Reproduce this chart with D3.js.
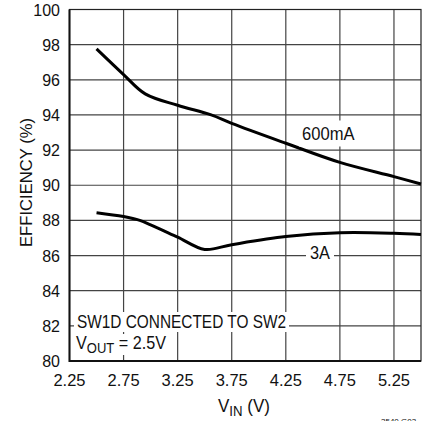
<!DOCTYPE html>
<html>
<head>
<meta charset="utf-8">
<script src="https://cdn.jsdelivr.net/npm/d3@7"></script>
<style>
  html, body { margin: 0; padding: 0; background: #fff; }
  svg text { font-family: "Liberation Sans", Arial, sans-serif; fill: #111; }
</style>
</head>
<body>
<div id="chart"></div>
<script>
// efficiency vs input voltage
const vin600 = [2.5, 2.75, 2.95, 3.25, 3.56, 3.75, 4.25, 4.75, 5.25, 5.5];
const eff600 = [97.76, 96.3, 95.2, 94.55, 94.0, 93.52, 92.39, 91.3, 90.49, 90.07];
const vin3A = [2.5, 2.75, 2.9, 3.0, 3.25, 3.5, 3.75, 4.25, 4.75, 5.25, 5.5];
const eff3A = [88.44, 88.22, 88.0, 87.75, 87.05, 86.35, 86.62, 87.08, 87.3, 87.27, 87.2];
const xTicks = [2.25, 2.75, 3.25, 3.75, 4.25, 4.75, 5.25];
const yTicks = [80, 82, 84, 86, 88, 90, 92, 94, 96, 98, 100];

const W = 422, H = 421;
const m = { left: 69.5, right: 421, top: 9.5, bottom: 361 };

const x = d3.scaleLinear().domain([2.25, 5.5]).range([m.left, m.right]);
const y = d3.scaleLinear().domain([80, 100]).range([m.bottom, m.top]);

const svg = d3.select("#chart").append("svg")
  .attr("width", W).attr("height", H);

// grid
svg.append("g").selectAll("line").data(xTicks.slice(1)).enter().append("line")
  .attr("x1", d => x(d)).attr("x2", d => x(d))
  .attr("y1", m.top).attr("y2", m.bottom)
  .attr("stroke", "#444").attr("stroke-width", 1.2);
svg.append("g").selectAll("line").data(yTicks.slice(1)).enter().append("line")
  .attr("x1", m.left).attr("x2", m.right)
  .attr("y1", d => y(d)).attr("y2", d => y(d))
  .attr("stroke", "#444").attr("stroke-width", 1.2);

// frame
svg.append("rect")
  .attr("x", m.left).attr("y", m.top)
  .attr("width", m.right - m.left).attr("height", m.bottom - m.top)
  .attr("fill", "none").attr("stroke", "#222").attr("stroke-width", 1.2);
svg.append("path")
  .attr("d", `M${m.left},${m.top}V${m.bottom}H${m.right}`)
  .attr("fill", "none").attr("stroke", "#111").attr("stroke-width", 2);

// tick labels
svg.append("g").selectAll("text").data(yTicks).enter().append("text")
  .attr("x", 60).attr("y", d => y(d) + 6)
  .attr("text-anchor", "end").style("font-size", "16px")
  .text(d => d);
svg.append("g").selectAll("text").data(xTicks).enter().append("text")
  .attr("x", d => x(d)).attr("y", 385.5)
  .attr("text-anchor", "middle").style("font-size", "16.5px")
  .text(d => d.toFixed(2));

// axis titles
const xt = svg.append("text").attr("x", 218).attr("y", 412)
  .attr("text-anchor", "start").style("font-size", "18px")
  .attr("textLength", 52).attr("lengthAdjust", "spacingAndGlyphs");
xt.append("tspan").text("V");
xt.append("tspan").attr("dy", 4).style("font-size", "14px").text("IN");
xt.append("tspan").attr("dy", -4).text(" (V)");

svg.append("text")
  .attr("transform", `translate(32,${182.5}) rotate(-90)`)
  .attr("text-anchor", "middle").style("font-size", "17px")
  .attr("textLength", 129).attr("lengthAdjust", "spacingAndGlyphs")
  .text("EFFICIENCY (%)");

// curves
const line = d3.line().x(d => x(d[0])).y(d => y(d[1])).curve(d3.curveCatmullRom.alpha(0.5));
svg.append("path").datum(d3.zip(vin600, eff600))
  .attr("d", line).attr("fill", "none").attr("stroke", "#000").attr("stroke-width", 3);
svg.append("path").datum(d3.zip(vin3A, eff3A))
  .attr("d", line).attr("fill", "none").attr("stroke", "#000").attr("stroke-width", 3);

// labels with white backgrounds
function label(cx, cy, len) {
  const g = svg.append("g");
  const bg = g.append("rect").attr("fill", "#fff");
  const t = g.append("text").attr("x", cx).attr("y", cy)
    .style("font-size", "18px")
    .attr("textLength", len).attr("lengthAdjust", "spacingAndGlyphs");
  return { bg, t };
}
function fitBg(l, padX, padY) {
  const b = l.t.node().getBBox();
  l.bg.attr("x", b.x - padX).attr("y", b.y - padY)
    .attr("width", b.width + 2 * padX).attr("height", b.height + 2 * padY);
}

const l600 = label(302, 139.5, 52.5);
l600.t.text("600mA");
fitBg(l600, 3, 3);

const l3 = label(310, 258.5, 20);
l3.t.text("3A");
fitBg(l3, 4, 0);

const lsw = label(77, 328, 209);
lsw.t.text("SW1D CONNECTED TO SW2");
fitBg(lsw, 3, 0);

const lv = label(76, 349, 90);
lv.t.append("tspan").text("V");
lv.t.append("tspan").attr("dy", 4).style("font-size", "14.5px").text("OUT");
lv.t.append("tspan").attr("dy", -4).text(" = 2.5V");
fitBg(lv, 3, -1);

svg.append("text").attr("x", 381).attr("y", 424)
  .style("font-size", "8px").text("3540 G03");
</script>
</body>
</html>
